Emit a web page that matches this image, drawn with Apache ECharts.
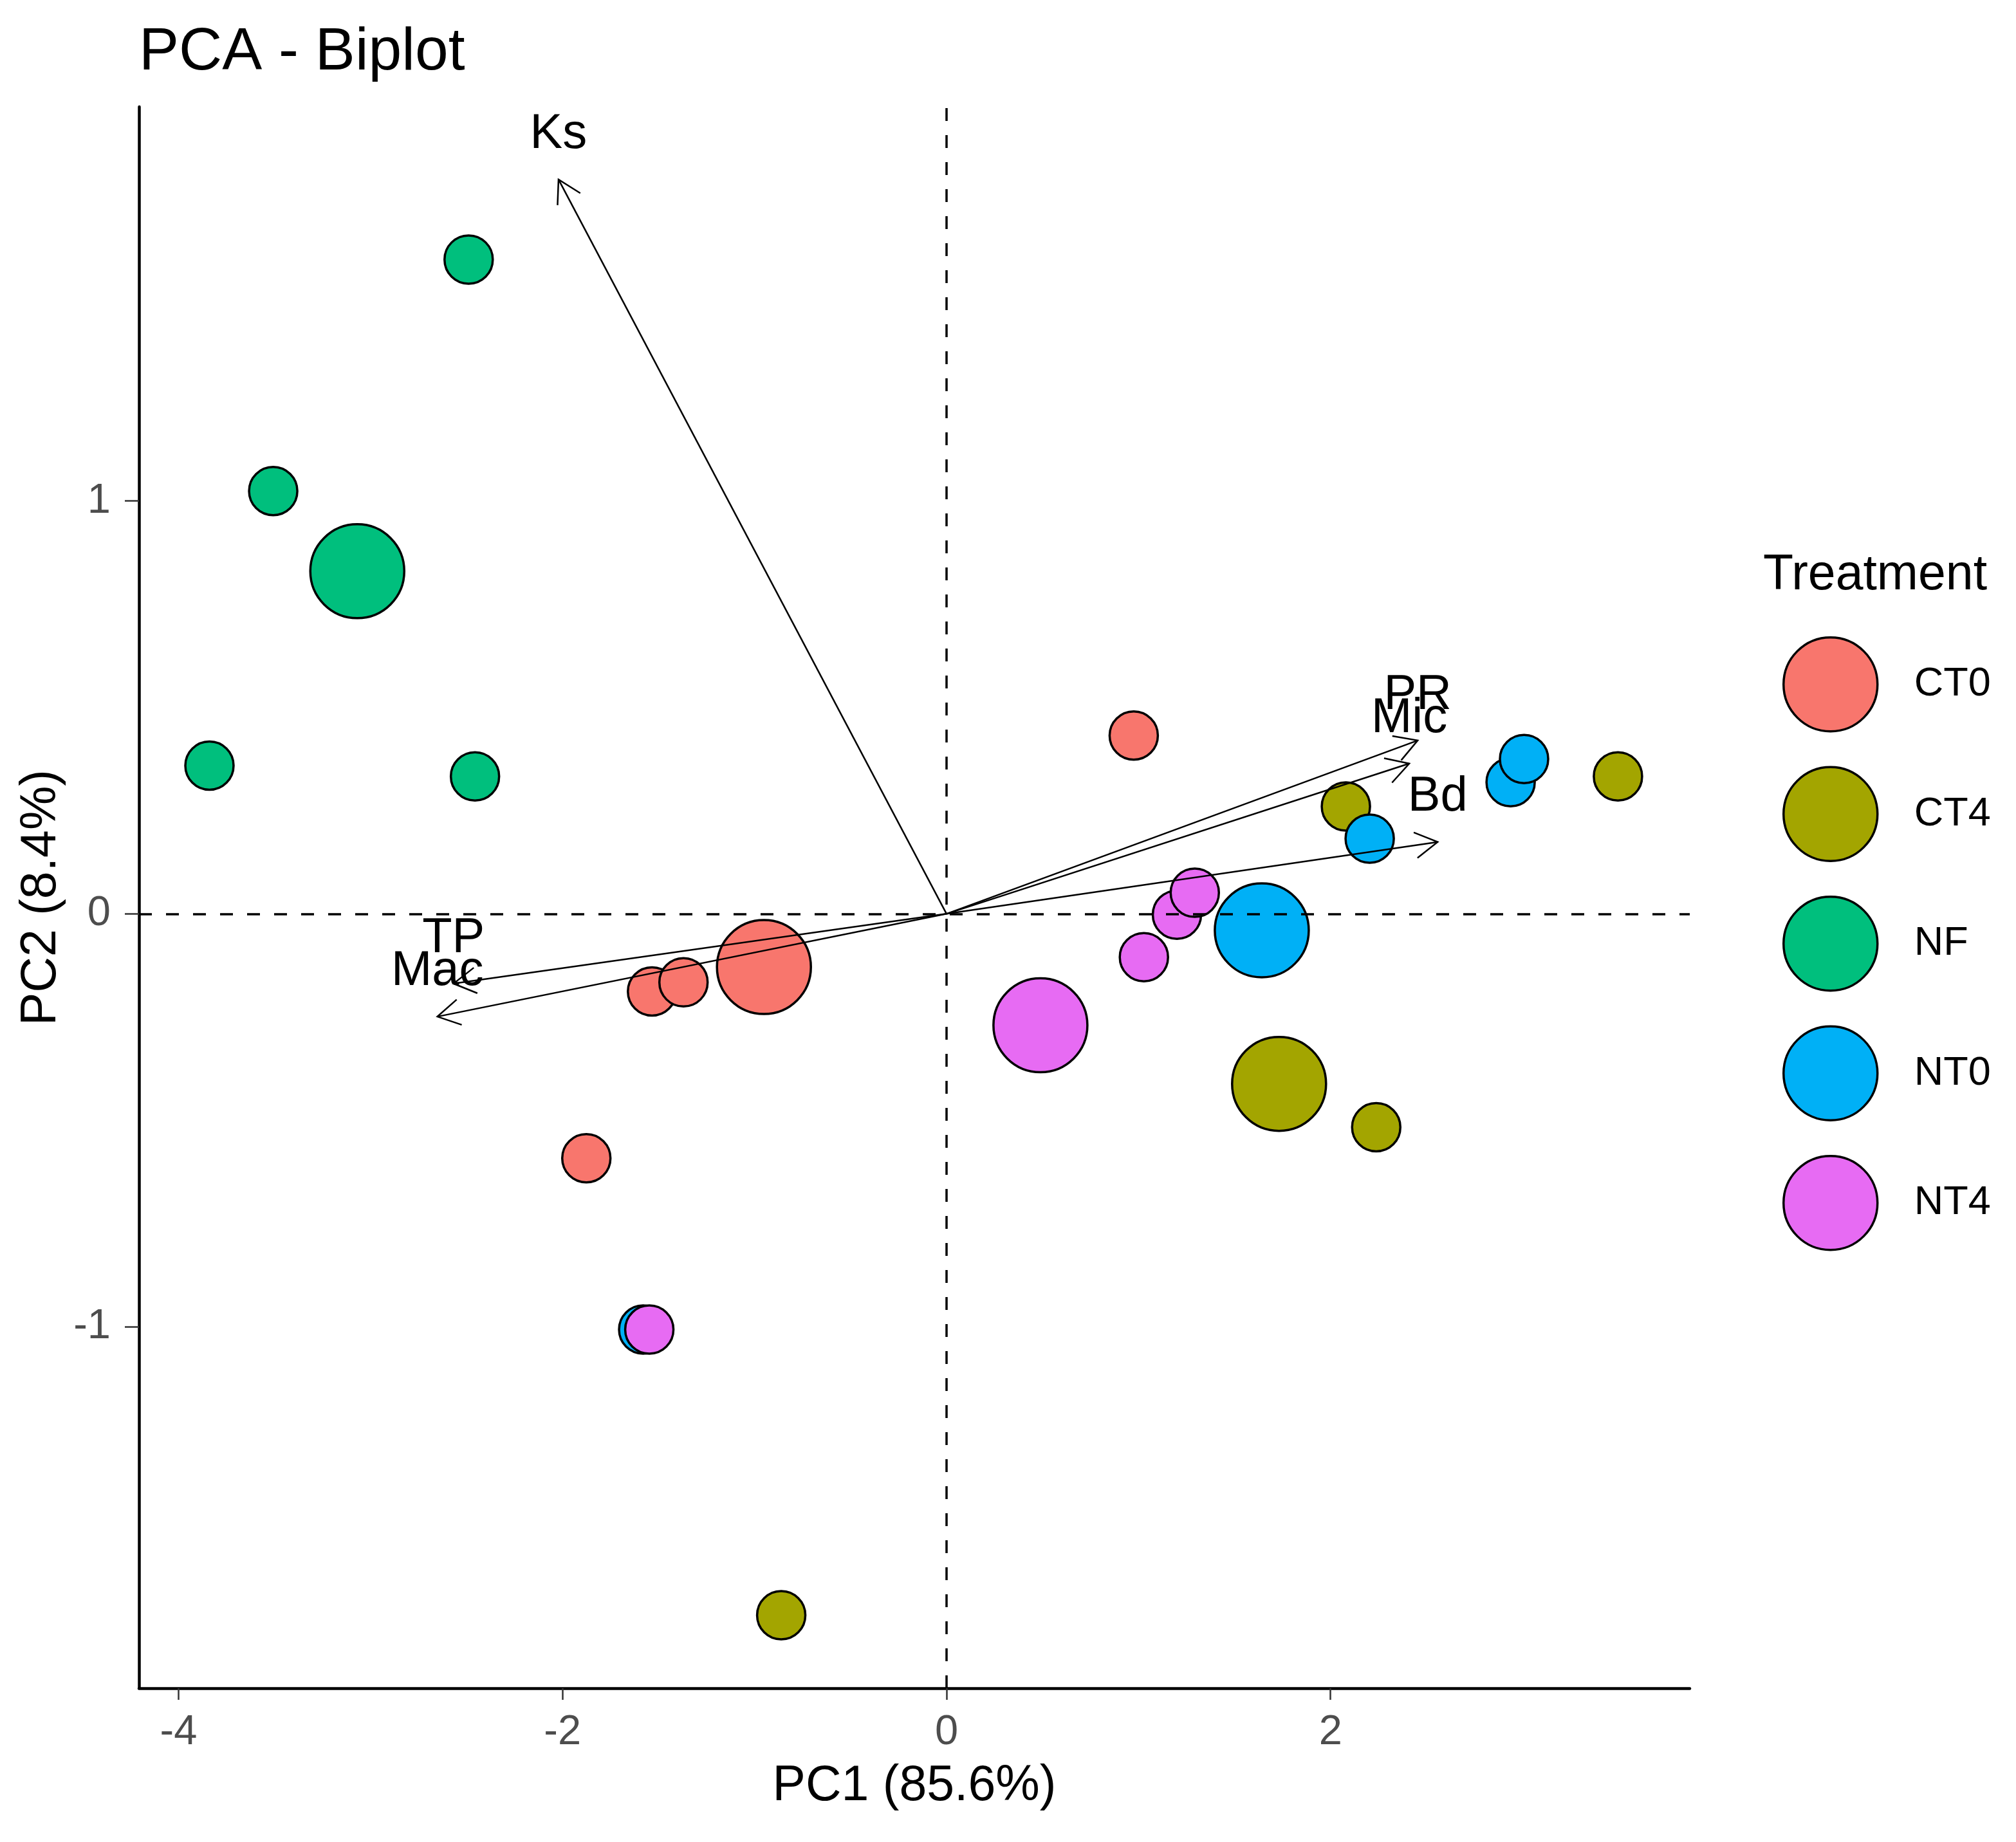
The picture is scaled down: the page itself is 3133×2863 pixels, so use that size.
<!DOCTYPE html>
<html>
<head>
<meta charset="utf-8">
<script src="https://cdn.jsdelivr.net/npm/echarts@6/dist/echarts.min.js"></script>
<style>
html,body{margin:0;padding:0;background:#fff;}
#chart{width:3133px;height:2863px;}
</style>
</head>
<body>
<div id="chart"></div>
<script>
// ---- data ----
const treatments = ['CT0', 'CT4', 'NF', 'NT0', 'NT4'];
const treatmentColors = ['#F8766D', '#A3A500', '#00BF7D', '#00B0F6', '#E76BF3'];

const ct0PC1 = [0.975, -1.534, -1.370, -1.876];
const ct0PC2 = [0.432, -0.188, -0.166, -0.592];
const ct4PC1 = [2.080, 3.497, 2.238, -0.861];
const ct4PC2 = [0.260, 0.333, -0.517, -1.699];
const nfPC1  = [-2.489, -3.507, -3.839, -2.456];
const nfPC2  = [1.585, 1.024, 0.359, 0.333];
const nt0PC1 = [2.204, 2.938, 3.008, -1.580];
const nt0PC2 = [0.182, 0.319, 0.375, -1.007];
const nt4PC1 = [1.200, 1.293, 1.028, -1.548];
const nt4PC2 = [-0.002, 0.051, -0.105, -1.007];

const meanPC1 = [-0.951, 1.732, -3.069, 1.642, 0.489];
const meanPC2 = [-0.129, -0.412, 0.830, -0.040, -0.270];

const arrowNames = ['Ks', 'PR', 'Mic', 'Bd', 'TP', 'Mac'];
const arrowPC1 = [-2.021, 2.454, 2.410, 2.558, -2.568, -2.652];
const arrowPC2 = [1.779, 0.420, 0.364, 0.174, -0.169, -0.249];

const xTicks = [-4, -2, 0, 2];
const yTicks = [-1, 0, 1];
const xRange = [-4.206, 3.871];
const yRange = [-1.876, 1.955];

// ---- build ----
const FONT = '"Liberation Sans", Arial, sans-serif';
const groupPC1 = [ct0PC1, ct4PC1, nfPC1, nt0PC1, nt4PC1];
const groupPC2 = [ct0PC2, ct4PC2, nfPC2, nt0PC2, nt4PC2];

const series = [];
treatments.forEach((t, g) => {
  series.push({
    name: t, type: 'scatter', z: 2,
    symbol: 'circle', symbolSize: 75,
    itemStyle: { color: treatmentColors[g], borderColor: '#000', borderWidth: 3.5, opacity: 1 },
    emphasis: { disabled: true },
    data: groupPC1[g].map((x, i) => [x, groupPC2[g][i]])
  });
});
treatments.forEach((t, g) => {
  series.push({
    name: t, type: 'scatter', z: 3,
    symbol: 'circle', symbolSize: 146,
    itemStyle: { color: treatmentColors[g], borderColor: '#000', borderWidth: 3.5, opacity: 1 },
    emphasis: { disabled: true },
    data: [[meanPC1[g], meanPC2[g]]]
  });
});
// reference dashed lines
series.push({
  name: 'ref', type: 'scatter', z: 5, data: [], silent: true,
  markLine: {
    silent: true, symbol: ['none', 'none'], animation: false,
    label: { show: false },
    lineStyle: { color: '#000', width: 3.5, type: [20, 22] },
    emphasis: { disabled: true },
    data: [{ xAxis: 0 }, { yAxis: 0 }]
  }
});
// variable arrows
series.push({
  name: 'vars', type: 'custom', z: 6, clip: false, silent: true,
  data: arrowPC1.map((x, i) => [x, arrowPC2[i]]),
  renderItem: function (params, api) {
    const o = api.coord([0, 0]);
    const t = api.coord([api.value(0), api.value(1)]);
    const ang = Math.atan2(o[1] - t[1], o[0] - t[0]);
    const L = 40, a = Math.PI / 6;
    const p1 = [t[0] + L * Math.cos(ang + a), t[1] + L * Math.sin(ang + a)];
    const p2 = [t[0] + L * Math.cos(ang - a), t[1] + L * Math.sin(ang - a)];
    return {
      type: 'group',
      children: [
        { type: 'line', shape: { x1: o[0], y1: o[1], x2: t[0], y2: t[1] },
          style: { stroke: '#000', lineWidth: 2.5 } },
        { type: 'polyline', shape: { points: [p1, t, p2] },
          style: { stroke: '#000', lineWidth: 2.5, fill: null } },
        { type: 'text', x: t[0], y: t[1] - 70,
          style: { text: arrowNames[params.dataIndex], fontSize: 76, fontFamily: FONT,
                   fill: '#000', align: 'center', verticalAlign: 'middle' } }
      ]
    };
  }
});

const chart = echarts.init(document.getElementById('chart'), null, { renderer: 'canvas' });
chart.setOption({
  animation: false,
  backgroundColor: '#fff',
  textStyle: { fontFamily: FONT },
  title: [
    { text: 'PCA - Biplot', left: 216, top: 36, padding: 0,
      textStyle: { fontSize: 93, fontWeight: 'normal', color: '#000', fontFamily: FONT } },
    { text: 'Treatment', left: 2740, top: 856, padding: 0,
      textStyle: { fontSize: 77, fontWeight: 'normal', color: '#000', fontFamily: FONT } }
  ],
  legend: {
    data: treatments, orient: 'vertical', left: 2770, top: 989, padding: 0,
    icon: 'circle', itemWidth: 146, itemHeight: 146, itemGap: 52,
    itemStyle: { borderColor: '#000', borderWidth: 3.5 },
    textStyle: { fontSize: 63, color: '#000', fontFamily: FONT, padding: [0, 0, 0, 52] },
    selectedMode: false
  },
  grid: { left: 216, right: 3133 - 2626, top: 166, bottom: 2863 - 2624 },
  xAxis: {
    type: 'value', min: xRange[0], max: xRange[1],
    name: 'PC1 (85.6%)', nameLocation: 'middle', nameGap: 114,
    nameTextStyle: { fontSize: 77, color: '#000', fontFamily: FONT },
    axisLine: { show: true, onZero: false, lineStyle: { color: '#000', width: 4.5 } },
    axisTick: { show: true, length: 18, customValues: xTicks, lineStyle: { color: '#333', width: 2.5 } },
    axisLabel: { customValues: xTicks, fontSize: 65, color: '#4D4D4D', margin: 37, fontFamily: FONT },
    splitLine: { show: false }
  },
  yAxis: {
    type: 'value', min: yRange[0], max: yRange[1],
    name: 'PC2 (8.4%)', nameLocation: 'middle', nameGap: 104,
    nameTextStyle: { fontSize: 77, color: '#000', fontFamily: FONT },
    axisLine: { show: true, onZero: false, lineStyle: { color: '#000', width: 4.5 } },
    axisTick: { show: true, length: 22, customValues: yTicks, lineStyle: { color: '#333', width: 2.5 } },
    axisLabel: { customValues: yTicks, fontSize: 65, color: '#4D4D4D', margin: 44, fontFamily: FONT },
    splitLine: { show: false }
  },
  series: series
});
</script>
</body>
</html>
